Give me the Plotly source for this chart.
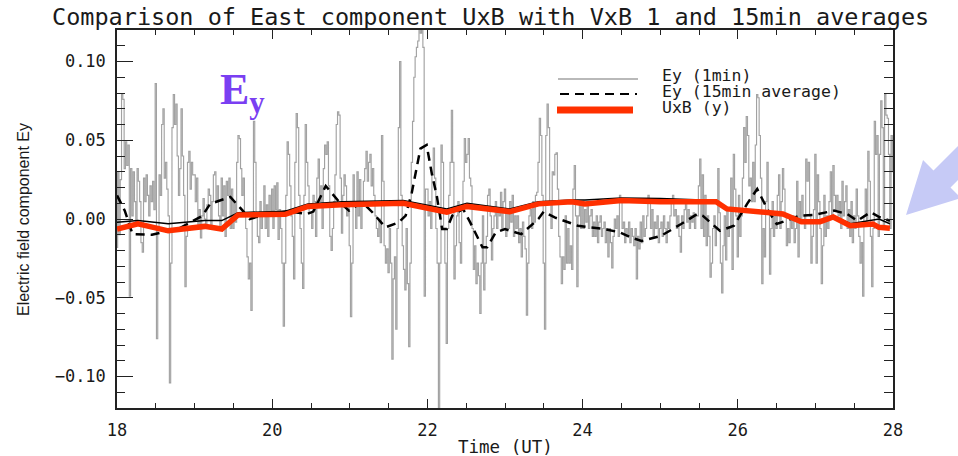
import plotly.graph_objects as go

# ---------------- data ----------------
START_HOUR = 18.0          # first 1-min sample (UT hours)
STEP_MIN = 1.0             # cadence of the 1-min series

# Ey 1-min values, one row = 10 minutes (18:00 ... 27:59, plus 28:00)
EY_1MIN = [
    -0.018, 0.030, -0.010, 0.025, 0.079, 0.076, 0.032, 0.049, 0.034, 0.047,
    -0.049, 0.032, 0.002, 0.030, 0.011, -0.004, 0.032, 0.024, 0.011, -0.015,
    -0.021, 0.026, 0.011, 0.028, 0.015, 0.002, 0.021, 0.011, 0.024, 0.006,
    0.086, -0.076, -0.006, 0.028, 0.015, 0.060, 0.070, 0.026, 0.036, 0.019,
    0.002, -0.104, -0.028, 0.058, 0.079, 0.060, 0.073, 0.040, 0.015, 0.032,
    0.070, 0.040, 0.015, -0.043, -0.011, 0.036, 0.043, 0.019, 0.036, 0.028,
    0.028, 0.011, 0.026, -0.006, 0.006, -0.012, 0.002, 0.013, 0.000, -0.006,
    0.009, 0.019, 0.015, -0.004, 0.011, 0.028, 0.030, 0.011, 0.021, 0.002,
    -0.006, 0.026, 0.002, 0.021, -0.011, 0.024, 0.015, 0.026, -0.006, 0.019,
    -0.006, 0.011, -0.002, 0.036, 0.053, 0.051, 0.032, 0.015, 0.026, 0.002,
    -0.006, -0.024, -0.038, -0.028, -0.058, 0.002, 0.062, 0.036, 0.004, -0.011,
    -0.015, 0.011, -0.006, 0.002, 0.021, -0.006, 0.009, -0.011, 0.015, 0.002,
    0.019, -0.006, 0.021, 0.006, 0.023, -0.013, 0.006, -0.006, -0.028, -0.068,
    -0.028, 0.015, 0.049, 0.041, 0.021, 0.002, -0.011, -0.038, 0.036, 0.067,
    0.058, 0.015, -0.006, -0.028, -0.044, 0.015, 0.060, 0.036, 0.021, 0.004,
    0.004, -0.006, 0.015, 0.011, -0.011, 0.026, 0.038, 0.011, 0.021, -0.006,
    0.032, 0.047, 0.041, 0.049, 0.021, -0.011, -0.020, -0.006, 0.011, 0.028,
    0.060, 0.068, 0.066, 0.026, -0.009, 0.015, 0.028, 0.021, 0.002, 0.011,
    -0.017, -0.062, -0.028, 0.028, 0.011, -0.006, 0.030, 0.002, 0.025, -0.006,
    0.011, 0.024, 0.032, 0.043, 0.024, 0.036, 0.041, 0.021, 0.032, 0.015,
    0.002, -0.006, -0.011, 0.000, -0.015, 0.053, 0.024, -0.017, -0.028, -0.019,
    -0.034, -0.006, -0.028, -0.089, -0.038, -0.024, -0.070, -0.006, 0.058, 0.100,
    0.015, -0.017, -0.032, -0.045, -0.006, -0.041, -0.081, -0.028, 0.036, 0.062,
    0.090, 0.103, 0.109, 0.113, 0.130, 0.118, 0.130, 0.109, -0.049, 0.019,
    0.019, 0.002, 0.011, -0.006, 0.028, 0.045, 0.026, -0.006, -0.028, -0.130,
    -0.028, 0.047, 0.036, -0.006, -0.028, -0.079, -0.006, 0.015, 0.036, 0.069,
    0.036, -0.038, -0.017, 0.002, 0.011, -0.015, -0.028, 0.006, 0.024, 0.051,
    0.036, 0.041, 0.051, 0.026, 0.021, -0.006, -0.032, -0.017, -0.041, -0.028,
    -0.036, -0.060, -0.028, 0.002, -0.045, -0.028, -0.011, 0.015, 0.019, 0.002,
    -0.026, -0.006, 0.002, 0.011, -0.006, 0.006, 0.002, 0.017, -0.006, 0.011,
    0.019, -0.011, 0.006, -0.006, 0.011, -0.002, 0.015, -0.011, 0.002, -0.006,
    0.002, -0.015, -0.006, -0.024, -0.002, -0.011, -0.019, -0.061, -0.028, 0.002,
    0.006, -0.006, 0.011, -0.002, 0.015, 0.017, 0.036, 0.064, 0.053, 0.015,
    -0.028, -0.070, 0.053, 0.073, 0.058, 0.011, -0.006, 0.030, 0.028, 0.041,
    0.042, 0.019, -0.011, -0.024, -0.041, -0.024, -0.032, 0.002, -0.028, -0.006,
    -0.028, -0.017, -0.032, 0.019, 0.034, 0.002, -0.043, 0.002, 0.011, -0.006,
    0.011, -0.006, 0.006, -0.002, 0.011, -0.006, 0.002, 0.006, -0.011, -0.002,
    -0.011, 0.002, -0.015, -0.002, 0.002, -0.011, -0.006, -0.002, -0.015, -0.006,
    -0.024, -0.006, -0.015, -0.031, -0.011, 0.000, -0.006, 0.002, -0.011, 0.015,
    0.011, -0.006, -0.002, -0.015, -0.006, -0.011, -0.002, -0.015, -0.006, -0.011,
    -0.017, -0.006, -0.038, -0.011, -0.019, -0.002, -0.015, 0.002, -0.011, -0.006,
    0.002, 0.015, 0.011, -0.006, 0.006, -0.011, -0.002, -0.006, 0.002, -0.015,
    -0.006, -0.002, -0.011, 0.002, -0.006, -0.015, -0.002, -0.006, 0.002, 0.011,
    0.015, 0.002, 0.006, -0.006, 0.002, -0.011, -0.021, 0.002, -0.006, 0.006,
    0.011, -0.002, 0.006, -0.006, 0.002, -0.002, 0.004, -0.006, 0.002, 0.002,
    0.021, 0.038, -0.006, 0.028, -0.011, 0.015, -0.017, 0.002, -0.011, -0.037,
    -0.028, -0.006, 0.002, -0.017, -0.006, 0.032, 0.004, -0.028, -0.047, -0.017,
    0.002, -0.026, 0.006, -0.011, -0.006, 0.026, -0.032, 0.041, 0.019, 0.002,
    -0.024, 0.015, -0.011, 0.002, 0.026, 0.058, 0.036, 0.065, 0.053, 0.021,
    0.026, 0.011, 0.036, 0.011, 0.047, 0.079, 0.077, 0.053, 0.026, -0.041,
    -0.006, -0.024, 0.011, 0.036, 0.004, -0.035, -0.006, 0.011, -0.011, 0.002,
    -0.006, 0.015, 0.028, -0.006, 0.011, 0.032, 0.019, 0.002, -0.017, -0.006,
    -0.015, 0.002, -0.006, 0.002, -0.015, -0.006, 0.024, -0.024, 0.011, -0.002,
    0.015, 0.002, -0.006, 0.038, 0.024, 0.036, 0.002, -0.028, -0.011, 0.006,
    0.041, -0.028, 0.028, 0.011, -0.006, -0.041, -0.017, 0.015, -0.011, 0.002,
    -0.006, 0.011, 0.030, 0.002, 0.034, 0.015, 0.006, 0.015, 0.002, 0.011,
    -0.006, 0.024, 0.002, 0.011, 0.021, -0.006, 0.006, -0.011, 0.011, -0.015,
    0.002, -0.006, 0.019, 0.002, -0.011, -0.028, -0.015, -0.049, 0.002, 0.019,
    -0.002, 0.043, 0.024, -0.011, -0.043, -0.006, 0.062, 0.041, 0.053, -0.011,
    0.041, 0.075, 0.058, -0.006, 0.079, 0.066, 0.064, 0.041, -0.006, 0.053,
    0.030,
]

# Ey 15-min running average (dashed)
AVG15_T = [18.0, 18.10, 18.2, 18.45, 18.8, 19.1, 19.2, 19.46, 19.62, 19.71, 19.93,
           20.2, 20.45, 20.53, 20.69, 20.86, 20.99, 21.16, 21.29, 21.46, 21.63,
           21.72, 21.8, 21.91, 21.99, 22.06, 22.12, 22.19, 22.25, 22.32, 22.46,
           22.55, 22.71, 22.77, 22.88, 23.0, 23.21, 23.43, 23.5, 23.64, 23.94,
           24.28, 24.48, 24.63, 24.76, 25.01, 25.27, 25.48, 25.55, 25.77, 25.95,
           26.12, 26.25, 26.38, 26.5, 26.68, 26.8, 26.98, 27.24, 27.41, 27.54,
           27.71, 27.83, 27.96]
AVG15_V = [0.015, 0.0053, -0.0096, -0.010, -0.006, 0.002, 0.0096, 0.014, 0.0053, 0.0, 0.0032,
           0.005, 0.0032, 0.0047, 0.021, 0.011, 0.0053, 0.0107, 0.0043, -0.0053, -0.0021,
           0.0021, 0.017, 0.0447, 0.047, 0.028, 0.015, -0.0064, -0.0064, 0.0021, 0.0064,
           -0.002, -0.018, -0.018, -0.0085, -0.0064, -0.0096, 0.0, 0.0047, 0.001, -0.0043,
           -0.0064, -0.0085, -0.0118, -0.014, -0.0107, -0.0032, 0.0032, 0.002, -0.0075, -0.0043,
           0.0096, 0.019, 0.0064, -0.0032, 0.0, 0.0021, 0.0026, 0.0053, 0.0032, -0.0011,
           0.0043, 0.0011, -0.0011]

# UxB (y) (thick red) and the thin black companion curve
UXB_T = [18.0, 18.27, 18.66, 19.13, 19.35, 19.56, 20.17, 20.46, 20.9, 21.69, 22.25,
         22.51, 23.06, 23.43, 23.86, 24.03, 24.5, 25.0, 25.72, 25.86, 26.58, 26.82,
         27.06, 27.23, 27.45, 27.74, 27.82, 27.96]
UXB_V = [-0.0064, -0.003, -0.0075, -0.0047, -0.0064, 0.0026, 0.003, 0.008, 0.009, 0.010, 0.0043,
         0.008, 0.0047, 0.0096, 0.011, 0.0096, 0.0118, 0.011, 0.011, 0.0064, 0.0032, -0.0017,
         -0.0017, 0.0013, -0.0043, -0.0032, -0.0053, -0.0058]
UXB_THIN_V = [-0.002, -0.001, -0.003, -0.001, -0.001, 0.004, 0.005, 0.0096, 0.011, 0.0118, 0.0064,
              0.010, 0.0064, 0.011, 0.012, 0.012, 0.0133, 0.013, 0.0118, 0.007, 0.004, -0.001,
              -0.001, 0.002, -0.003, -0.001, 0.000, -0.003]

X_RANGE = [18, 28]
Y_RANGE = [-0.12, 0.12]

TITLE = "Comparison of East component UxB with VxB 1 and 15min averages"
LEGEND_LABELS = ["Ey (1min)", "Ey (15min average)", "UxB (y)"]

# ---------------- figure ----------------
W, H = 958, 456
ML, MR, MT, MB = 117, 65, 30, 48
PW, PH = W - ML - MR, H - MT - MB


def px(xp):
    return (xp - ML) / PW


def py(yp):
    return (H - MB - yp) / PH


MONO = "DejaVu Sans Mono"
GRAY = "#a2a2a2"
RED = "#ff3000"
INK = "#1a1a1a"

t1 = [START_HOUR + i * STEP_MIN / 60.0 for i in range(len(EY_1MIN))]

fig = go.Figure()
fig.add_trace(go.Scatter(x=t1, y=EY_1MIN, mode="lines", line=dict(color=GRAY, width=1.15, shape="hvh"),
                         showlegend=False, hoverinfo="skip"))
fig.add_trace(go.Scatter(x=UXB_T, y=UXB_THIN_V, mode="lines", line=dict(color="black", width=1.5),
                         showlegend=False, hoverinfo="skip"))
fig.add_trace(go.Scatter(x=AVG15_T, y=AVG15_V, mode="lines",
                         line=dict(color="black", width=2.5, dash="9px,6px"),
                         showlegend=False, hoverinfo="skip"))
fig.add_trace(go.Scatter(x=UXB_T, y=UXB_V, mode="lines", line=dict(color=RED, width=5.5),
                         showlegend=False, hoverinfo="skip"))
# anchor trace for the right-hand tick axis
fig.add_trace(go.Scatter(x=[X_RANGE[0]], y=[0], yaxis="y2", mode="markers",
                         marker=dict(opacity=0), showlegend=False, hoverinfo="skip"))

axis_font = dict(family=MONO, size=17, color=INK)

fig.update_layout(
    width=W, height=H,
    margin=dict(l=ML, r=MR, t=MT, b=MB),
    paper_bgcolor="white", plot_bgcolor="white",
    showlegend=False,
    xaxis=dict(range=X_RANGE, tick0=18, dtick=2, ticks="inside", ticklen=9, tickwidth=1,
               tickcolor="#222", minor=dict(dtick=0.5, ticks="inside", ticklen=5, tickcolor="#222"),
               showline=True, linecolor="#222", linewidth=1.5, mirror="ticks",
               showgrid=False, zeroline=False, tickfont=axis_font, ticklabelstandoff=6),
    yaxis=dict(range=Y_RANGE, tick0=0, dtick=0.05, tickformat=".2f", ticks="inside", ticklen=16,
               tickwidth=1, tickcolor="#222",
               minor=dict(dtick=0.01, ticks="inside", ticklen=8, tickcolor="#222"),
               showline=True, linecolor="#222", linewidth=1.5, mirror=True,
               showgrid=False, zeroline=False, tickfont=axis_font, ticklabelstandoff=6),
    yaxis2=dict(range=Y_RANGE, overlaying="y", side="right", tick0=0, dtick=0.01, ticks="inside",
                ticklen=9, tickcolor="#222", showticklabels=False, showline=False,
                showgrid=False, zeroline=False),
)

ann = []
ann.append(dict(text=TITLE, xref="paper", yref="paper", x=px(50), y=py(17), xanchor="left",
                yanchor="middle", showarrow=False, font=dict(family=MONO, size=23.5, color=INK)))
ann.append(dict(text="Electric field component Ey", xref="paper", yref="paper", x=px(23), y=py(220),
                xanchor="center", yanchor="middle", textangle=-90, showarrow=False,
                font=dict(family="Liberation Sans", size=16, color=INK)))
ann.append(dict(text="Time (UT)", xref="paper", yref="paper", x=px(505), y=py(447),
                xanchor="center", yanchor="middle", showarrow=False,
                font=dict(family=MONO, size=17.5, color=INK)))
ann.append(dict(text="<b>E<sub>y</sub></b>", xref="paper", yref="paper", x=px(218), y=py(92),
                xanchor="left", yanchor="middle", showarrow=False,
                font=dict(family="Liberation Serif", size=44, color="#7a3ff2")))
for lab, yp in zip(LEGEND_LABELS, [75, 91, 107]):
    ann.append(dict(text=lab, xref="paper", yref="paper", x=px(660), y=py(yp), xanchor="left",
                    yanchor="middle", showarrow=False, font=dict(family=MONO, size=16.5, color=INK)))
fig.update_layout(annotations=ann)

shapes = []
shapes.append(dict(type="line", xref="paper", yref="paper", x0=px(558), x1=px(638), y0=py(79), y1=py(79),
                   line=dict(color=GRAY, width=1.3)))
shapes.append(dict(type="line", xref="paper", yref="paper", x0=px(560), x1=px(637), y0=py(94), y1=py(94),
                   line=dict(color="black", width=2, dash="9px,6px")))
shapes.append(dict(type="line", xref="paper", yref="paper", x0=px(557), x1=px(633), y0=py(110), y1=py(110),
                   line=dict(color=RED, width=7)))

# decorative arrow on the right edge
pts = [(906, 215), (923, 160), (933.5, 170.5), (1004, 100), (1021, 117), (950.5, 187.5), (961, 198)]
path = "M " + " L ".join(f"{px(a):.4f},{py(b):.4f}" for a, b in pts) + " Z"
shapes.append(dict(type="path", xref="paper", yref="paper", path=path, fillcolor="#c6caf6",
                   line=dict(width=0)))
fig.update_layout(shapes=shapes)

fig.write_html("out.html")
